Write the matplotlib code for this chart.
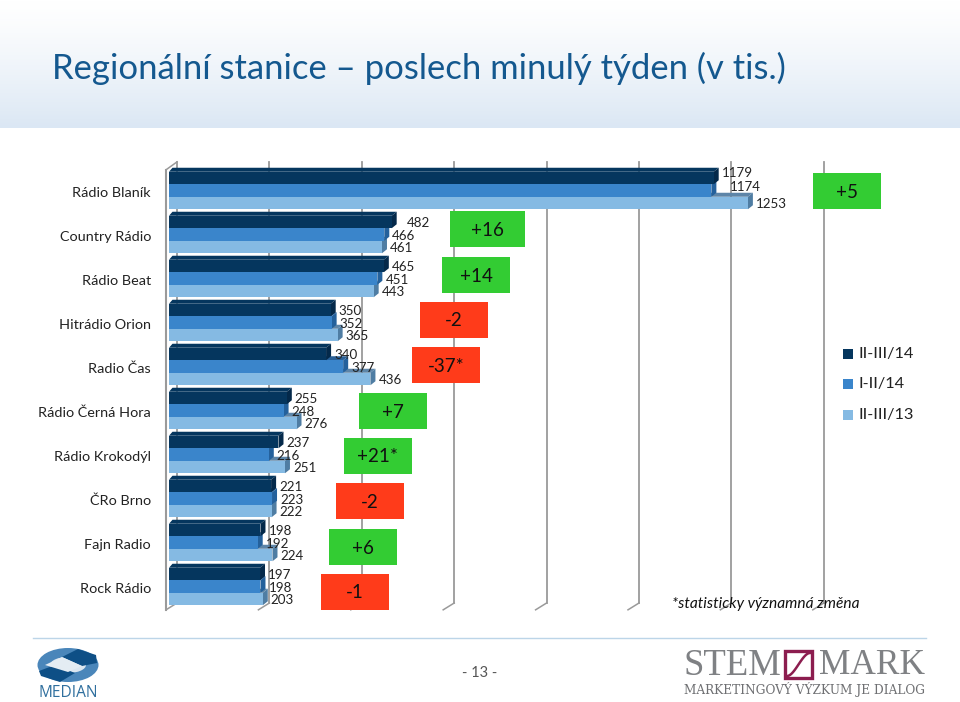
import numpy as np
import matplotlib
matplotlib.use("Agg")
import matplotlib.pyplot as plt
from matplotlib.patches import Polygon, Rectangle, Ellipse

plt.rcParams['font.family'] = ['Lato', 'DejaVu Sans']

categories = ["Rádio Blaník", "Country Rádio", "Rádio Beat", "Hitrádio Orion", "Radio Čas",
              "Rádio Černá Hora", "Rádio Krokodýl", "ČRo Brno", "Fajn Radio", "Rock Rádio"]
series_names = ["II-III/14", "I-II/14", "II-III/13"]
s_2014b = [1179, 482, 465, 350, 340, 255, 237, 221, 198, 197]
s_2014a = [1174, 466, 451, 352, 377, 248, 216, 223, 192, 198]
s_2013 = [1253, 461, 443, 365, 436, 276, 251, 222, 224, 203]
changes = ["+5", "+16", "+14", "-2", "-37*", "+7", "+21*", "-2", "+6", "-1"]
title = "Regionální stanice – poslech minulý týden (v tis.)"
note = "*statisticky významná změna"
page = "- 13 -"

W, H = 960, 702
fig = plt.figure(figsize=(W/100, H/100), dpi=100, facecolor='white')

# page layer in pixel coordinates
bg = fig.add_axes([0, 0, 1, 1], zorder=0)
bg.set_xlim(0, W); bg.set_ylim(H, 0); bg.axis('off')
grad = np.linspace(0, 1, 128)[:, None] ** 1.3
c0 = np.array([1, 1, 1]); c1 = np.array([0xdb/255, 0xe7/255, 0xf4/255])
img = (c0[None, None, :] * (1 - grad[..., None]) + c1[None, None, :] * grad[..., None])
bg.imshow(img, extent=(0, W, 128, 0), aspect='auto', zorder=0)
bg.set_xlim(0, W); bg.set_ylim(H, 0)
bg.text(52, 68, title, fontsize=24.9, color='#14588f', va='center', ha='left')
bg.plot([33, 926], [637.5, 637.5], color='#bcd5e8', lw=1)
bg.text(480, 673, page, fontsize=10.5, color='#555555', ha='center', va='center')

# main chart: x in listeners, y in category rows
PX = 0.462
X0, Y0, ROW = 169, 190.5, 44
ax = fig.add_axes([0, 0, 1, 1], zorder=1)
ax.set_xlim(-X0/PX, (W-X0)/PX)
ax.set_ylim((H-Y0)/ROW, -Y0/ROW)
ax.axis('off'); ax.patch.set_alpha(0)

dx, dy = 5/PX, 4/ROW
n = len(categories)
grid_vals = np.arange(0, 1401, 200)
for g in grid_vals:
    gx = g + 8/PX
    ax.plot([gx, gx], [-0.65, n - 1 + 0.375], color='#9a9a9a', lw=1.3, zorder=1)
    ax.plot([g - 3/PX, gx], [n - 1 + 0.53, n - 1 + 0.375], color='#9a9a9a', lw=1.1, zorder=1)
ax.plot([-3/PX]*2, [-0.47, n - 1 + 0.53], color='#9a9a9a', lw=1.5, zorder=1)
ax.plot([-3/PX, 8/PX], [-0.47, -0.65], color='#9a9a9a', lw=1.1, zorder=1)

h = 12.5/ROW
series = [(s_2013, 12.5/ROW, '#85bae3', '#5d85a8', '#4f7da3'),
          (s_2014a, 0.0, '#3a85cb', '#2a6198', '#24619c'),
          (s_2014b, -12.5/ROW, '#05365e', '#05365e', '#04294a')]
z = 2
for vals, off, front, top, side in series:
    for i, v in enumerate(vals):
        y = i + off
        yt, yb = y - h/2, y + h/2
        ax.add_patch(Polygon([(0, yt), (dx*0.7, yt - dy), (v + dx, yt - dy), (v, yt)], fc=top, ec='none', zorder=z))
        ax.add_patch(Polygon([(v, yt), (v + dx, yt - dy), (v + dx, yb - dy), (v, yb)], fc=side, ec='none', zorder=z))
    ax.barh(np.arange(n) + off, vals, height=h, color=front, zorder=z + 0.5, linewidth=0)
    z += 1

for vals, off in zip([s_2014b, s_2014a, s_2013], [-12.5, 0, 12.5]):
    for i, v in enumerate(vals):
        extra = {1174: 11, 482: 7}.get(v, 0)
        up = {1179: 6, 1174: 5}.get(v, 0)
        ax.annotate(str(v), (v, i + off/ROW), xytext=((8 + extra)*0.72, (up - 1.4)*0.72), textcoords='offset points',
                    fontsize=9.6, color='#222222', va='center', ha='left', zorder=8)

for i, c in enumerate(categories):
    ax.text(-18/PX, i + 2.5/ROW, c, fontsize=10.4, color='#222222', ha='right', va='center', zorder=8)

# change boxes, legend, note, logos in pixel coordinates
fg = fig.add_axes([0, 0, 1, 1], zorder=2, label='overlay')
fg.set_xlim(0, W); fg.set_ylim(H, 0); fg.axis('off'); fg.patch.set_alpha(0)

box_left = [813, 450, 442, 420, 412, 359, 344, 336, 329, 321]
box_top = [173, 211, 257, 302, 347, 393, 438, 483, 529, 574]
box_w = [68, 75, 68, 68, 68, 68, 68, 68, 68, 68]
for i, c in enumerate(changes):
    col = '#33cc33' if c.startswith('+') else '#ff3b1a'
    fg.add_patch(Rectangle((box_left[i], box_top[i]), box_w[i], 36, fc=col, ec='none', zorder=3))
    fg.text(box_left[i] + box_w[i]/2, box_top[i] + 19, c, fontsize=13.5, color='#111111',
            ha='center', va='center', zorder=4)

for yy, col, name in zip([354, 384, 415], ['#05365e', '#3a85cb', '#85bae3'], series_names):
    fg.add_patch(Rectangle((842.5, yy - 5), 10, 10, fc=col, ec='none'))
    fg.text(858, yy, name, fontsize=11.8, color='#222222', va='center', ha='left')

fg.text(672, 604, note, fontsize=11.2, style='italic', color='#111111', va='center', ha='left', zorder=6)

# MEDIAN logo
fg.add_patch(Ellipse((68, 665), 61, 34, fc='#4a86ba', ec='none'))
fg.add_patch(Ellipse((68, 665), 36, 16, fc='#dbe6f0', ec='none'))
fg.add_patch(Polygon([(62, 657), (78, 649), (96, 655), (97, 663), (82, 666)], fc='#0e4f86', ec='none'))
fg.add_patch(Polygon([(75, 673), (60, 682), (41, 676), (39, 671), (55, 665)], fc='#0e4f86', ec='none'))
fg.add_patch(Polygon([(45, 665), (62, 657), (82, 666), (68, 672)], fc='#e4ecf3', ec='none'))
fg.text(68, 693, "MEDIAN", fontsize=11.2, color='#2f6f9e', ha='center', va='center', fontfamily='Open Sans')

# STEM MARK logo
fg.text(683, 666, "STEM", fontsize=26.5, color='#7f8184', ha='left', va='center', fontfamily='Liberation Serif')
fg.text(819, 666, "MARK", fontsize=25.5, color='#7f8184', ha='left', va='center', fontfamily='Liberation Serif')
fg.add_patch(Rectangle((785, 651), 27, 27, fc='white', ec='#8c1d4f', lw=2.4))
t = np.linspace(0, 1, 40)
fg.plot(787 + 23*t, 676 - 23*(3*t**2 - 2*t**3), color='#8c1d4f', lw=1.8)
fg.text(684, 689.5, "MARKETINGOVÝ VÝZKUM JE DIALOG", fontsize=8.7, color='#6f7073', ha='left', va='center',
        fontfamily='DejaVu Serif')

fig.savefig('out.png', dpi=100)
